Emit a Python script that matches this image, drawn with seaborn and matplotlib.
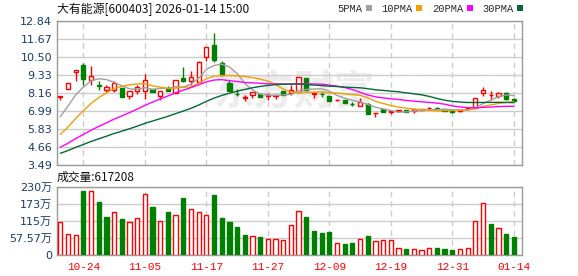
import numpy as np
import pandas as pd
import matplotlib
matplotlib.use("Agg")
import matplotlib.pyplot as plt
from matplotlib.patches import Patch
import seaborn as sns

# ---------------- data ----------------
dates = ["10-21", "10-22", "10-23", "10-24", "10-27", "10-28", "10-29", "10-30", "10-31",
         "11-03", "11-04", "11-05", "11-06", "11-07", "11-10", "11-11", "11-12", "11-13",
         "11-14", "11-17", "11-18", "11-19", "11-20", "11-21", "11-24", "11-25", "11-26",
         "11-27", "11-28", "12-01", "12-02", "12-03", "12-04", "12-05", "12-08", "12-09",
         "12-10", "12-11", "12-12", "12-15", "12-16", "12-17", "12-18", "12-19", "12-22",
         "12-23", "12-24", "12-25", "12-26", "12-29", "12-30", "12-31", "01-05", "01-06",
         "01-07", "01-08", "01-09", "01-12", "01-13", "01-14"]

open_ = [7.93, 8.44, 9.55, 9.96, 9.03, 8.68, 8.36, 8.34, 8.49, 7.95,
         8.28, 8.31, 8.42, 7.95, 8.42, 8.16, 9.14, 8.96, 8.88, 10.48,
         11.26, 10.11, 8.81, 8.12, 7.85, 8.04, 8.10, 7.98, 7.98, 8.29,
         8.15, 8.25, 9.12, 8.08, 8.11, 7.97, 7.70, 7.71, 7.46, 7.34,
         7.43, 6.84, 7.11, 6.94, 7.02, 7.06, 7.00, 7.04, 7.16, 7.21,
         7.11, 7.06, 7.01, 7.11, 7.20, 8.15, 8.03, 7.99, 8.15, 7.77]
high = [7.96, 8.82, 9.67, 10.13, 9.90, 8.96, 8.70, 8.96, 8.50, 8.29,
        8.70, 9.42, 8.43, 8.31, 8.60, 9.04, 9.83, 9.57, 10.22, 11.14,
        12.06, 10.22, 9.03, 8.45, 8.04, 8.26, 8.15, 8.15, 8.01, 8.30,
        8.68, 9.19, 9.13, 8.20, 8.25, 7.98, 7.76, 7.72, 7.60, 7.82,
        7.50, 6.88, 7.15, 6.97, 7.05, 7.07, 7.12, 7.14, 7.26, 7.26,
        7.12, 7.07, 7.05, 7.22, 7.85, 8.57, 8.29, 8.25, 8.25, 7.86]
low = [7.73, 8.43, 8.92, 8.70, 8.66, 8.38, 8.23, 8.23, 7.90, 7.77,
       8.10, 7.79, 8.20, 7.73, 8.27, 8.15, 8.91, 8.70, 8.87, 10.26,
       10.16, 9.30, 8.30, 7.95, 7.65, 7.82, 7.90, 7.71, 7.76, 8.03,
       8.04, 8.24, 8.30, 7.82, 7.93, 7.62, 7.66, 7.52, 7.32, 7.33,
       6.78, 6.63, 6.90, 6.78, 6.91, 6.90, 6.88, 7.03, 7.08, 7.10,
       6.99, 6.85, 6.95, 7.10, 7.19, 7.99, 7.71, 7.86, 7.71, 7.56]
close = [7.96, 8.81, 9.66, 9.09, 9.25, 8.65, 8.53, 8.81, 7.91, 8.28,
         8.53, 9.03, 8.21, 8.31, 8.28, 9.03, 8.92, 9.18, 10.21, 11.13,
         10.33, 9.31, 8.31, 8.10, 7.88, 8.25, 7.93, 8.00, 8.01, 8.04,
         8.36, 9.18, 8.36, 8.19, 8.09, 7.65, 7.72, 7.53, 7.44, 7.60,
         6.80, 6.86, 6.93, 6.96, 7.04, 6.91, 7.11, 7.13, 7.18, 7.11,
         7.00, 6.95, 7.04, 7.21, 7.84, 8.36, 8.05, 8.15, 7.77, 7.65]
# closes before the visible window (estimated so the moving averages start where the picture shows)
prior_close = [3.45, 3.45, 3.47, 3.44, 3.46, 3.45, 3.49, 3.47, 3.50, 3.52,
               3.55, 3.66, 3.71, 3.74, 3.79, 3.82, 3.90, 3.88, 3.93, 4.02,
               4.07, 4.07, 4.08, 4.49, 4.94, 5.43, 5.97, 6.57, 7.23]
volume = [111.5, 72, 68.5, 216, 216, 178.5, 127.5, 147, 120.7, 112.8,
          126.5, 205.7, 161.5, 116.2, 144.5, 136.7, 192, 157, 147, 136.7,
          202, 124, 110.5, 93.5, 67.3, 65.3, 59.5, 55, 52.7, 49.3,
          100, 148, 128.5, 80, 74, 76.5, 39, 35.7, 40, 55,
          66, 46, 51.5, 49.3, 24.5, 22, 21, 17.7, 24.5, 24.5,
          22, 17.7, 21, 24.5, 116, 177.5, 106, 92.5, 70, 61.72]  # 万

ma_periods = [5, 10, 20, 30]
ma_labels = ["5PMA", "10PMA", "20PMA", "30PMA"]
price_ticks = [3.49, 4.65875, 5.8275, 6.99625, 8.165, 9.33375, 10.5025, 11.67125, 12.84]
price_tick_labels = ["3.49", "4.66", "5.83", "6.99", "8.16", "9.33", "10.50", "11.67", "12.84"]
vol_ticks = [0, 57.57, 115.14, 172.71, 230.28]
vol_tick_labels = ["0", "57.57万", "115万", "173万", "230万"]
tick_idx = [3, 11, 19, 27, 35, 43, 51, 59]
title = "大有能源[600403] 2026-01-14 15:00"
vol_title = "成交量:617208"

# ---------------- style ----------------
RED = "#ff0000"
GREEN = "#008000"
MA_COLORS = ["#a0a0a0", "#f0a000", "#ff00ff", "#006a35"]
FRAME = "#9a9a9a"
GRID = "#cccccc"
LABEL = "#1a3a6a"

sns.set_theme(style="white")
plt.rcParams["font.family"] = ["DejaVu Sans", "Noto Sans CJK SC"]
plt.rcParams["axes.unicode_minus"] = False

W, H = 578, 276
fig = plt.figure(figsize=(W / 100, H / 100), dpi=100)
fig.patch.set_facecolor("white")
L, R = 57, 522
ax = fig.add_axes([L / W, 1 - 165 / H, (R - L) / W, 144 / H])
axv = fig.add_axes([L / W, 1 - 255 / H, (R - L) / W, 68 / H])

o = np.array(open_)
h = np.array(high)
lo = np.array(low)
c = np.array(close)
n = len(c)
x = np.arange(n)

# watermark
ax.text(0.51, 0.5, "东方财富", transform=ax.transAxes, ha="center", va="center",
        fontsize=29, color="#ececec", fontweight="bold",
        family=["Noto Sans CJK SC"], zorder=0.5)

# candles
up = c >= o
ccol = np.where(up, RED, GREEN)
ax.vlines(x, lo, h, colors=ccol, lw=1, zorder=3)
body_bottom = np.minimum(o, c)
body_h = np.maximum(np.abs(c - o), 0.025)
ax.bar(x, body_h, bottom=body_bottom, width=0.55,
       color=np.where(up, "white", GREEN), edgecolor=ccol, linewidth=1, zorder=4)

# moving averages
full = pd.Series(list(prior_close) + list(close))
for p, col in zip(ma_periods, MA_COLORS):
    ma = full.rolling(p).mean().values[len(prior_close):]
    sns.lineplot(x=x, y=ma, ax=ax, color=col, linewidth=1, zorder=5)

ax.set_xlim(-0.43, n - 1 + 1.07)
ax.set_ylim(3.49, 12.84)
ax.set_yticks(price_ticks)
ax.set_yticklabels(price_tick_labels)
ax.set_xticks(tick_idx)
ax.set_xticklabels([])
ax.set_xlabel("")
ax.set_ylabel("")
ax.set_axisbelow(True)
ax.grid(axis="y", color=GRID, lw=1, ls="-")
ax.grid(axis="x", color=GRID, lw=1, ls=(0, (4, 3)))
ax.tick_params(axis="y", length=2, color=FRAME, pad=1.5, labelsize=8, labelcolor=LABEL)
ax.tick_params(axis="x", length=0)

# volume
prev = np.concatenate([[prior_close[-1]], c[:-1]])
vup = c >= prev
vdf = pd.DataFrame({"i": x, "vol": volume})
sns.barplot(data=vdf, x="i", y="vol", native_scale=True, width=0.55, ax=axv,
            color=RED, saturation=1, errorbar=None)
for patch, u in zip(axv.patches, vup):
    if u:
        patch.set_facecolor("white")
        patch.set_edgecolor(RED)
    else:
        patch.set_facecolor(GREEN)
        patch.set_edgecolor(GREEN)
    patch.set_linewidth(1)
    patch.set_zorder(3)

axv.set_xlim(-0.43, n - 1 + 1.07)
axv.set_ylim(0, 230.28)
axv.set_yticks(vol_ticks)
axv.set_yticklabels(vol_tick_labels)
axv.set_xticks(tick_idx)
axv.set_xticklabels([dates[i] for i in tick_idx])
axv.set_xlabel("")
axv.set_ylabel("")
axv.set_axisbelow(True)
axv.grid(axis="y", color=GRID, lw=1, ls="-")
axv.grid(axis="x", color=GRID, lw=1, ls=(0, (4, 3)))
axv.tick_params(axis="y", length=2, color=FRAME, pad=1.5, labelsize=8, labelcolor=LABEL)
axv.tick_params(axis="x", length=0, pad=5, labelsize=8, labelcolor=RED)
for lab in axv.get_xticklabels():
    lab.set_family(["Liberation Mono"])

for a in (ax, axv):
    for s in a.spines.values():
        s.set_visible(True)
        s.set_color(FRAME)
        s.set_linewidth(1)

# texts
fig.text(L / W, 1 - 9 / H, title, ha="left", va="center", fontsize=8.6,
         family=["Noto Sans CJK SC"], color="#111111")
fig.text(L / W, 1 - 177 / H, vol_title, ha="left", va="center", fontsize=8.5,
         family=["Noto Sans CJK SC"], color="#111111")

handles = [Patch(facecolor=col, edgecolor="none") for col in MA_COLORS]
fig.legend(handles, ma_labels, loc="center left", bbox_to_anchor=(337 / W, 1 - 8.5 / H),
           ncol=4, frameon=False, markerfirst=False, handlelength=0.6, handleheight=0.55,
           handletextpad=0.35, columnspacing=0.9, borderpad=0, borderaxespad=0,
           prop={"family": "Liberation Mono", "size": 7.5})

fig.savefig("out.png", dpi=100, facecolor="white")
